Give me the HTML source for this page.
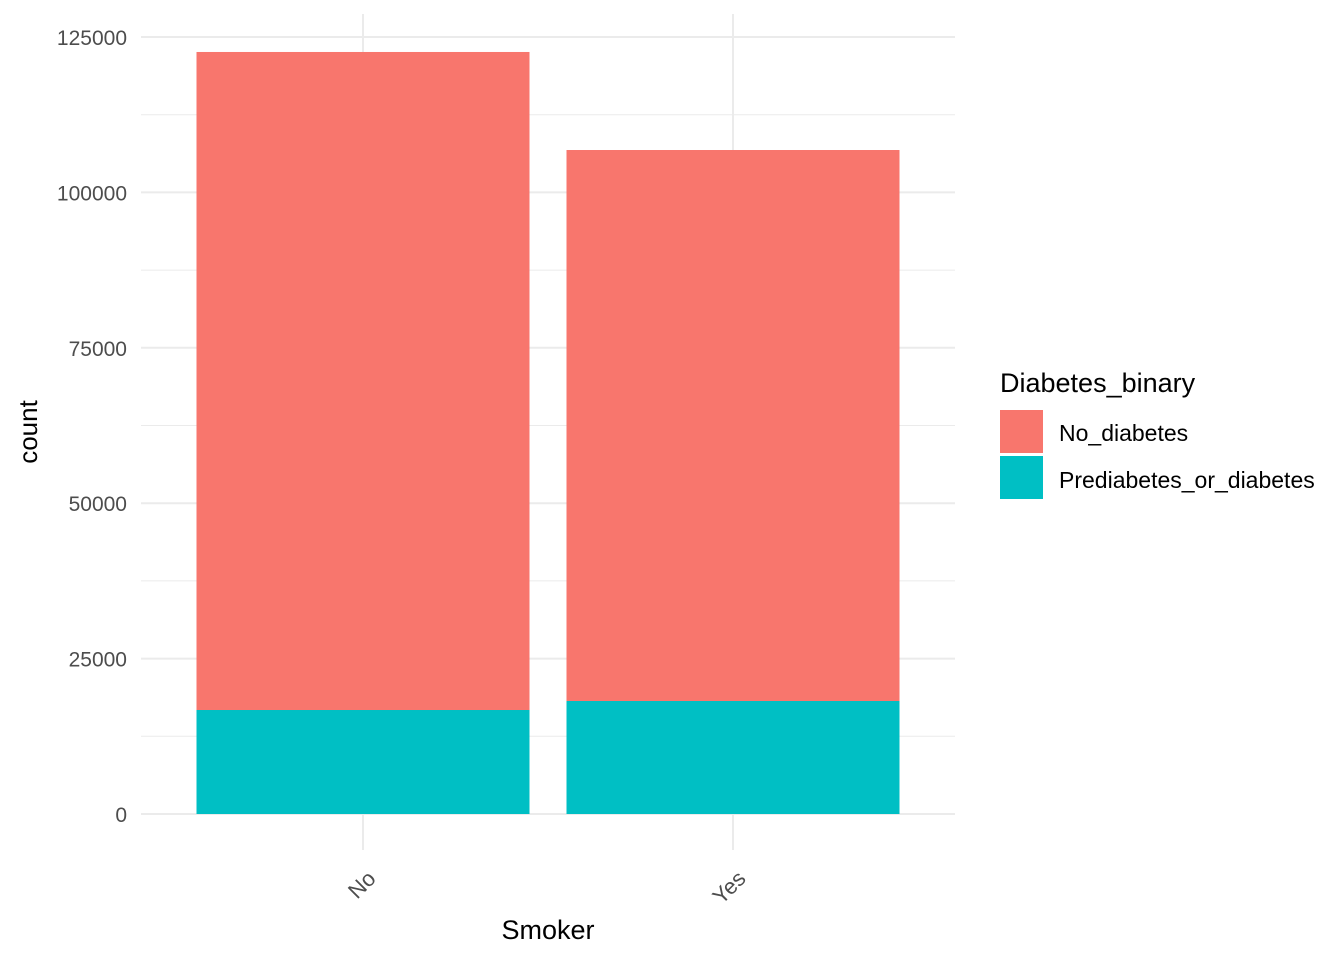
<!DOCTYPE html>
<html><head><meta charset="utf-8"><style>
body{margin:0;background:#fff;}
svg{display:block;font-family:"Liberation Sans",Arial,sans-serif;}
</style></head><body>
<svg id="chart" width="1344" height="960">
<g id="grid"></g>
<g id="bars"></g>
<g id="axes"></g>
<text x="28" y="432" transform="rotate(-90 28 432)" text-anchor="middle" dominant-baseline="central" font-size="26" fill="#000">count</text>
<text x="548" y="939" text-anchor="middle" font-size="27" fill="#000">Smoker</text>
<g>
<text x="1000" y="392" font-size="27" fill="#000">Diabetes_binary</text>
<rect x="1000" y="410" width="43" height="43" fill="#F8766D"/>
<text x="1059" y="441" font-size="23" fill="#000">No_diabetes</text>
<rect x="1000" y="456" width="43" height="43" fill="#00BFC4"/>
<text x="1059" y="488" font-size="23" fill="#000">Prediabetes_or_diabetes</text>
</g>
</svg>
<script>
const categories = ["No", "Yes"];
const prediabetes = [16730, 18180];
const noDiabetes = [105860, 88640];
const yTicks = [0, 25000, 50000, 75000, 100000, 125000];

const NS = "http://www.w3.org/2000/svg";
const y0 = 814, pxPer = 777 / 125000;
const yScale = v => y0 - v * pxPer;
const left = 141, right = 955;
const unit = (right - left) / (categories.length + 0.2);
const xCenter = i => left + unit * (0.6 + i);
const barW = unit * 0.9;
function mk(tag, attrs, parent){const e=document.createElementNS(NS,tag);for(const k in attrs)e.setAttribute(k,attrs[k]);parent.appendChild(e);return e;}
const grid=document.getElementById('grid'), bars=document.getElementById('bars'), axes=document.getElementById('axes');
for(let i=0;i<yTicks.length-1;i++){
  const mv=(yTicks[i]+yTicks[i+1])/2;
  const l=mk('line',{x1:left,x2:right,y1:yScale(mv),y2:yScale(mv),stroke:'#ebebeb','stroke-width':1},grid);
  
  
}
yTicks.forEach(t=>{
  const l=mk('line',{x1:left,x2:right,y1:yScale(t),y2:yScale(t),stroke:'#ebebeb','stroke-width':2},grid);
  
  
  const tx=mk('text',{x:127,y:yScale(t)+8,'text-anchor':'end','font-size':21,fill:'#4d4d4d'},axes);
  tx.textContent=t;
  
  
});
categories.forEach((c,i)=>{
  const cx=xCenter(i);
  const l=mk('line',{x1:cx,x2:cx,y1:14,y2:850,stroke:'#ebebeb','stroke-width':2},grid);
  
  
  const top1=yScale(prediabetes[i]), top2=yScale(prediabetes[i]+noDiabetes[i]);
  const r1=mk('rect',{x:cx-barW/2,y:top1,width:barW,height:y0-top1,fill:'#00BFC4'},bars);
  
  
  const r2=mk('rect',{x:cx-barW/2,y:top2,width:barW,height:top1-top2,fill:'#F8766D'},bars);
  
  
  const ax=cx+14, ay=880;
  const tx=mk('text',{x:ax,y:ay,'text-anchor':'end','font-size':22,fill:'#4d4d4d',transform:`rotate(-45 ${ax} ${ay})`},axes);
  tx.textContent=c;
  
  
});
</script>
</body></html>
